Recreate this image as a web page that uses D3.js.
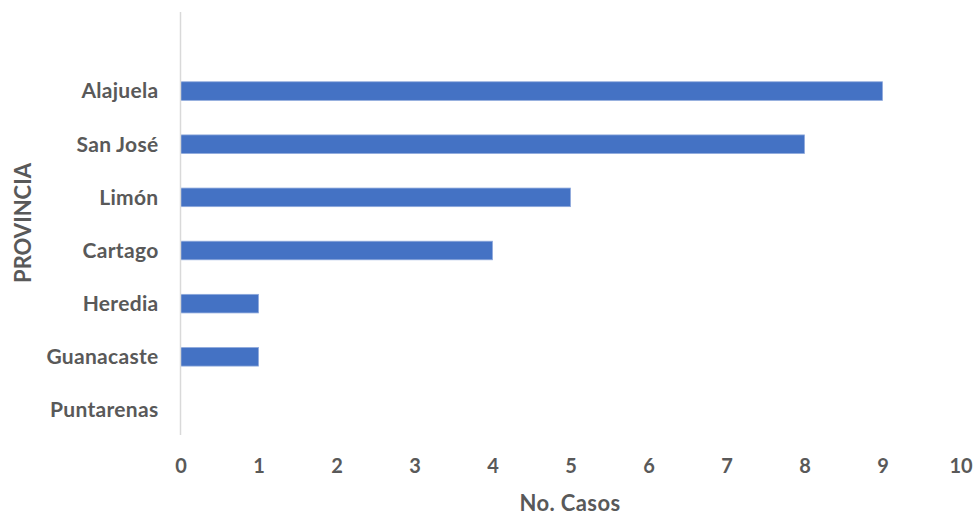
<!DOCTYPE html>
<html>
<head>
<meta charset="utf-8">
<script src="https://cdn.jsdelivr.net/npm/d3@7"></script>
<style>
  html, body { margin: 0; padding: 0; background: #fff; }
  svg text { font-family: Lato, "Open Sans", sans-serif; font-weight: bold; fill: #595959; }
</style>
</head>
<body>
<svg id="chart" width="976" height="515"></svg>
<script>
const categories = ["Alajuela", "San José", "Limón", "Cartago", "Heredia", "Guanacaste", "Puntarenas"];
const values = [9, 8, 5, 4, 1, 1, 0];
const xTicks = [0, 1, 2, 3, 4, 5, 6, 7, 8, 9, 10];
const xTitle = "No. Casos";
const yTitle = "PROVINCIA";

const svg = d3.select("#chart");
const plotTop = 12, plotBottom = 435, plotLeft = 180.5, plotRight = 960.5;

const x = d3.scaleLinear().domain([0, 10]).range([plotLeft, plotRight]);
const y = d3.scaleBand().domain(categories).range([64.5, 436.5]).paddingInner(0.65).paddingOuter(0.325);

// bars
svg.append("g").selectAll("rect")
  .data(categories.map((c, i) => ({ c, v: values[i] })).filter(d => d.v > 0))
  .join("rect")
  .attr("x", x(0))
  .attr("y", d => y(d.c))
  .attr("width", d => x(d.v) - x(0))
  .attr("height", y.bandwidth())
  .attr("fill", "#4472C4")
  .attr("stroke", "#8FAADC")
  .attr("stroke-width", 0.8);

// vertical axis line
svg.append("line")
  .attr("x1", x(0)).attr("x2", x(0))
  .attr("y1", plotTop).attr("y2", plotBottom)
  .attr("stroke", "#D9D9D9").attr("stroke-width", 1.5);

// category labels
const yAxis = d3.axisLeft(y).tickSize(0).tickPadding(22);
const gy = svg.append("g").attr("transform", `translate(${x(0)},0)`).call(yAxis);
gy.select(".domain").remove();
gy.selectAll("text").style("font-size", "21px").style("letter-spacing", "0.3px").attr("dy", "0.35em").attr("fill", "#595959");

// x tick labels
const xAxis = d3.axisBottom(x).tickValues(xTicks).tickSize(0).tickPadding(0).tickFormat(d3.format("d"));
const gx = svg.append("g").attr("transform", `translate(0,473)`).call(xAxis);
gx.select(".domain").remove();
gx.selectAll("text").style("font-size", "20px").attr("dy", "0").attr("y", 0).attr("fill", "#595959");

// axis titles
svg.append("text")
  .attr("x", 570).attr("y", 511)
  .attr("text-anchor", "middle")
  .style("font-size", "22px")
  .style("letter-spacing", "0.4px")
  .text(xTitle);

svg.append("text")
  .attr("transform", "translate(31,223) rotate(-90)")
  .attr("text-anchor", "middle")
  .style("font-size", "22px")
  .text(yTitle);
</script>
</body>
</html>
